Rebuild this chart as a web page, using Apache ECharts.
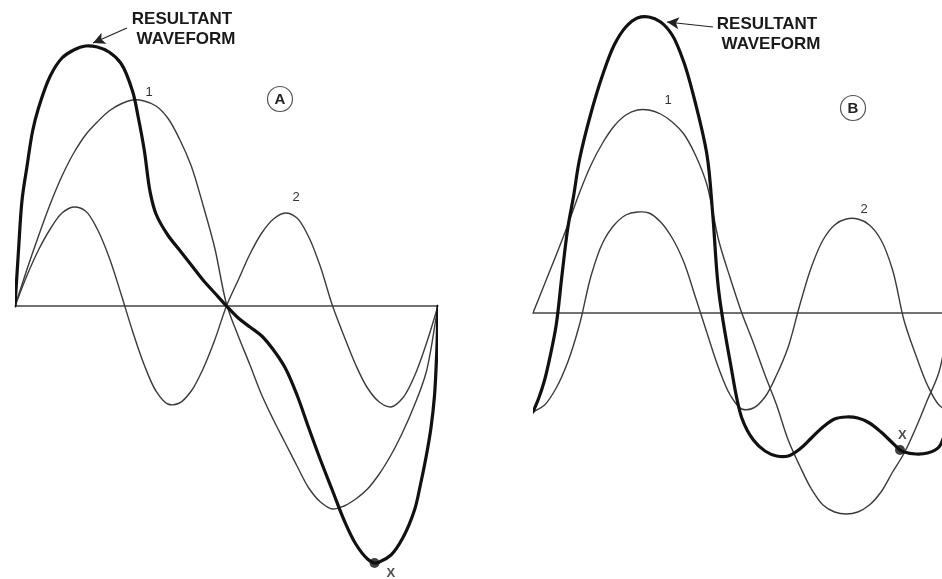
<!DOCTYPE html>
<html>
<head>
<meta charset="utf-8">
<script src="https://cdn.jsdelivr.net/npm/echarts@6/dist/echarts.min.js"></script>
<style>
  html, body { margin: 0; padding: 0; background: #ffffff; }
  #chart { width: 942px; height: 579px; }
</style>
</head>
<body>
<div id="chart"></div>
<script>
// ---- Panel A: fundamental (1), second harmonic in phase (2), and their sum ----
const degA = [0,10,20,30,40,50,60,70,80,90,100,110,120,130,140,150,160,170,180,
              190,200,210,220,230,240,250,260,270,280,290,300,310,320,330,340,350,360];
const wave1A = [0,18,35,51,65,76.5,85.5,92,97.5,101,103,102.5,100,94,83.5,70,50.5,29,1,
                -15,-29.5,-44.5,-57,-68.5,-80,-91,-98,-101.5,-100,-96.5,-91.5,-84,-74.5,-63,-49.5,-33,0];
const wave2A = [0,15,28,38.5,46.5,49.5,47.5,38.5,24.5,6.5,-12.5,-29.5,-42.5,-49,-48.5,-42.5,-31.5,-17,0,
                13,26,36.5,43.5,46.5,44,34.5,19.5,0.5,-15,-29.5,-41,-48,-50.5,-46,-35,-19,0];
const degRA = [0,3,6,10,15,20,30,40,50,60,70,80,90,100,105,110,115,120,130,140,150,160,170,180,
               190,200,210,220,230,240,250,260,270,280,290,300,306,310,320,330,340,345,350,354,357,359,360];
const sumA = [0,28,53,69,87.5,99,115,124,128,130,129.5,127,121.5,107.5,94,78,57,46,35.5,28,20.5,13,6.5,0,
              -6,-10.5,-15,-22,-31,-44.5,-61,-77,-92,-107,-119,-126.5,-128.5,-128,-124.5,-116,-102,-89.5,-75,-61,-45,-22,0];
const dotIndexA = 36;   // the marked point "X" on the sum curve

// ---- Panel B: fundamental (1), shifted second harmonic (2), and their sum ----
const degB = [0,10,20,30,40,50,60,70,80,90,100,110,120,130,140,150,160,170,180,
              190,200,210,220,230,240,250,260,270,280,290,300,310,320,330,340,350,360];
const wave1B = [0,14.5,29,44,60,74,85,93.5,99,101.5,101.5,99.5,95.5,89.5,79,64,36.5,17.5,0,
                -15,-31,-46,-63.5,-76.5,-88,-96,-99.5,-100.5,-99.5,-96,-89.5,-79.5,-70,-57.5,-43.5,-29.5,0];
const wave2B = [-49.5,-46,-37.5,-24.5,-6,18.5,35,44,49,50.5,50,45.5,37.5,25.5,8,-10,-27.5,-41,-48,
                -47.5,-42,-31,-17,4,23,36.5,44,47,47,44,36.5,21.5,-4,-21,-36,-46,-49.5];
const degRB = [0,5,10,15,20,25,30,35,40,50,60,70,80,90,100,110,120,130,140,150,155,160,170,180,
               190,200,210,220,230,240,250,260,270,280,290,300,310,316.4,320,330,340,350,360];
const sumB = [-49.5,-42.5,-33.5,-21,-6,19,42.5,58.5,76.5,100,119,134,143,147.5,148,145.5,139,125.5,105,79,49,11.5,-24.5,-52.5,
              -63.5,-69,-71.5,-71.5,-68,-62.5,-57,-53,-52,-52.5,-55,-59.5,-65,-68.5,-69.5,-70.5,-70,-67,-49.5];
const dotIndexB = 37;

const thin = { stroke: '#3b3b3b', lineWidth: 1.4 };
const thick = { stroke: '#111111', lineWidth: 3.2 };
const font = '"Liberation Sans", Arial, sans-serif';

// Centripetal Catmull-Rom spline through pixel points, as an SVG path string.
function splinePath(pts) {
  const n = pts.length;
  const get = (i) => {
    if (i < 0) return [2 * pts[0][0] - pts[1][0], 2 * pts[0][1] - pts[1][1]];
    if (i >= n) return [2 * pts[n - 1][0] - pts[n - 2][0], 2 * pts[n - 1][1] - pts[n - 2][1]];
    return pts[i];
  };
  const dist = (a, b) => Math.max(Math.pow(Math.hypot(b[0] - a[0], b[1] - a[1]), 0.5), 1e-6);
  let d = 'M' + pts[0][0] + ',' + pts[0][1];
  for (let i = 0; i < n - 1; i++) {
    const p0 = get(i - 1), p1 = get(i), p2 = get(i + 1), p3 = get(i + 2);
    const d1 = dist(p0, p1), d2 = dist(p1, p2), d3 = dist(p2, p3);
    const c1 = [0, 1].map(k => (d1 * d1 * p2[k] - d2 * d2 * p0[k] + (2 * d1 * d1 + 3 * d1 * d2 + d2 * d2) * p1[k]) / (3 * d1 * (d1 + d2)));
    const c2 = [0, 1].map(k => (d3 * d3 * p1[k] - d2 * d2 * p3[k] + (2 * d3 * d3 + 3 * d3 * d2 + d2 * d2) * p2[k]) / (3 * d3 * (d3 + d2)));
    d += 'C' + c1[0] + ',' + c1[1] + ' ' + c2[0] + ',' + c2[1] + ' ' + p2[0] + ',' + p2[1];
  }
  return d;
}

function curve(name, idx, xs, ys, style, z) {
  return {
    name, type: 'custom', xAxisIndex: idx, yAxisIndex: idx, z: z,
    silent: true, animation: false, clip: true,
    data: [[xs[0], ys[0]]],
    renderItem: (params, api) => {
      const pts = xs.map((x, i) => api.coord([x, ys[i]]));
      return {
        type: 'path',
        shape: { pathData: splinePath(pts) },
        style: Object.assign({ fill: 'none', lineJoin: 'round', lineCap: 'round' }, style)
      };
    }
  };
}

function pointer(idx, from, to) {
  return {
    type: 'line', xAxisIndex: idx, yAxisIndex: idx, data: [], silent: true, animation: false,
    markLine: {
      silent: true, animation: false,
      symbol: ['none', 'arrow'], symbolSize: [9, 12],
      label: { show: false },
      lineStyle: { color: '#222', width: 1.2, type: 'solid' },
      data: [[{ coord: from }, { coord: to }]]
    }
  };
}

function dot(idx, xs, ys, i, offset) {
  return {
    type: 'scatter', xAxisIndex: idx, yAxisIndex: idx, z: 10, silent: true, animation: false,
    data: [[xs[i], ys[i]]], symbolSize: 10, itemStyle: { color: '#111' },
    label: {
      show: true, formatter: 'X', position: 'right', offset: offset,
      fontFamily: font, fontWeight: 'bold', fontSize: 13, color: '#222'
    }
  };
}

function axisX(idx) {
  return {
    type: 'value', gridIndex: idx, min: 0, max: 360,
    axisLine: { show: true, onZero: true, lineStyle: { color: '#444', width: 1.5 } },
    axisTick: { show: false }, axisLabel: { show: false }, splitLine: { show: false }
  };
}
function axisY(idx, lo, hi) {
  return {
    type: 'value', gridIndex: idx, min: lo, max: hi, show: false,
    axisLine: { show: false }, splitLine: { show: false }
  };
}

function heading(cx, top) {
  return [
    { type: 'text', x: cx, y: top, style: { text: 'RESULTANT', fill: '#1a1a1a', font: 'bold 17px ' + font, textAlign: 'center', textVerticalAlign: 'middle' } },
    { type: 'text', x: cx + 4, y: top + 20, style: { text: 'WAVEFORM', fill: '#1a1a1a', font: 'bold 17px ' + font, textAlign: 'center', textVerticalAlign: 'middle' } }
  ];
}
function badge(cx, cy, letter) {
  return [
    { type: 'circle', shape: { cx: cx, cy: cy, r: 12.5 }, style: { fill: 'none', stroke: '#555', lineWidth: 1.2 } },
    { type: 'text', x: cx, y: cy + 1, style: { text: letter, fill: '#222', font: 'bold 15px ' + font, textAlign: 'center', textVerticalAlign: 'middle' } }
  ];
}
function tag(x, y, t) {
  return { type: 'text', x: x, y: y, style: { text: t, fill: '#333', font: '13px ' + font, textAlign: 'center', textVerticalAlign: 'middle' } };
}

const chart = echarts.init(document.getElementById('chart'), null, { renderer: 'canvas' });
chart.setOption({
  backgroundColor: '#ffffff',
  animation: false,
  grid: [
    { left: 15, top: 0, width: 423, height: 579, containLabel: false, outerBoundsMode: 'none' },
    { left: 533, top: 0, width: 417.6, height: 579, containLabel: false, outerBoundsMode: 'none' }
  ],
  xAxis: [axisX(0), axisX(1)],
  yAxis: [axisY(0, -136.5, 153), axisY(1, -133, 156.5)],
  series: [
    curve('1', 0, degA, wave1A, thin, 2),
    curve('2', 0, degA, wave2A, thin, 2),
    curve('resultant', 0, degRA, sumA, thick, 3),
    pointer(0, [95.3, 139], [66.4, 131.5]),
    dot(0, degRA, sumA, dotIndexA, [2, 10]),

    curve('1', 1, degB, wave1B, thin, 2),
    curve('2', 1, degB, wave2B, thin, 2),
    curve('resultant', 1, degRB, sumB, thick, 3),
    pointer(1, [155.2, 143], [115.5, 145.5]),
    dot(1, degRB, sumB, dotIndexB, [-12, -15])
  ],
  graphic: [
    ...heading(182, 19),
    ...heading(767, 24),
    ...badge(280, 99, 'A'),
    ...badge(853, 108, 'B'),
    tag(149, 92, '1'),
    tag(296, 197, '2'),
    tag(668, 100, '1'),
    tag(864, 209, '2')
  ]
});
</script>
</body>
</html>
